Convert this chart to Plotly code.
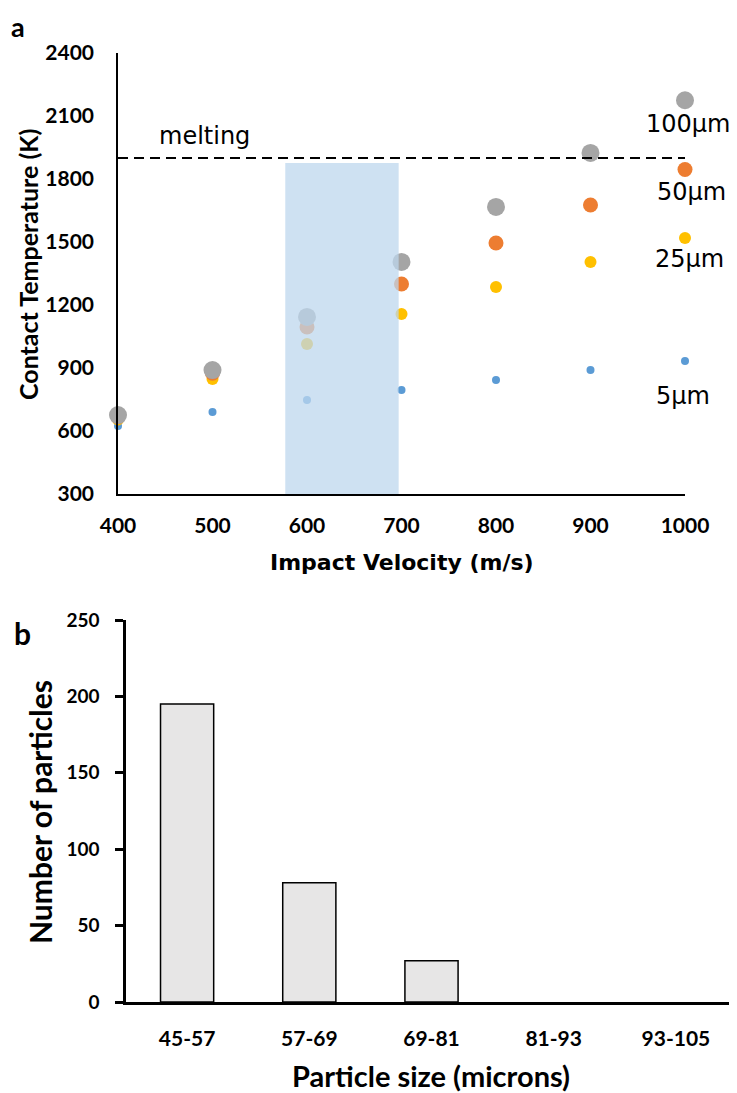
import plotly.graph_objects as go

# ---- Data: panel a ----
velocity = [400, 500, 600, 700, 800, 900, 1000]
temp_5um = [624, 690, 748, 795, 843, 890, 933]
temp_25um = [655, 848, 1014, 1157, 1286, 1405, 1519]
temp_50um = [668, 875, 1095, 1300, 1495, 1676, 1845]
temp_100um = [676, 890, 1143, 1405, 1667, 1924, 2175]
melting_temp = 1900
window_v = [577, 697]
window_t_top = 1876
y_ticks_a = [300, 600, 900, 1200, 1500, 1800, 2100, 2400]
x_ticks_a = [400, 500, 600, 700, 800, 900, 1000]

# ---- Data: panel b ----
size_bins = ["45-57", "57-69", "69-81", "81-93", "93-105"]
counts = [195, 78, 27, 0, 0]
y_ticks_b = [0, 50, 100, 150, 200, 250]

# page has an 8px body margin; lay out in page pixels
OFF = 8
W, H = 737 - OFF, 1093 - OFF
FONT = "Lato, Open Sans, sans-serif"
FONT_WIDE = "DejaVu Sans, sans-serif"

def fx(px):
    return (px - OFF) / W

def fy(py):
    return 1 - (py - OFF) / H

fig = go.Figure()

series = [
    ("5µm", temp_5um, "#5B9BD5", 8),
    ("25µm", temp_25um, "#FFC000", 12),
    ("50µm", temp_50um, "#ED7D31", 15),
    ("100µm", temp_100um, "#A5A5A5", 18),
]
for name, vals, col, sz in series:
    fig.add_trace(go.Scatter(
        x=velocity, y=vals, mode="markers", name=name,
        marker=dict(color=col, size=sz, line=dict(width=0)),
        cliponaxis=False, xaxis="x", yaxis="y", showlegend=False))

fig.add_trace(go.Bar(
    x=size_bins, y=counts, xaxis="x2", yaxis="y2", showlegend=False,
    marker=dict(color="#E7E6E6",
                line=dict(color="black", width=[1.5 if c > 0 else 0 for c in counts])),
    width=0.435))

# blue window (drawn above the points, semi-transparent)
fig.add_shape(type="rect", xref="x", yref="y",
              x0=window_v[0], x1=window_v[1], y0=300, y1=window_t_top,
              fillcolor="#BDD7EE", opacity=0.75, line=dict(width=0), layer="above")
# melting line
fig.add_shape(type="line", xref="x", yref="y",
              x0=velocity[0], x1=velocity[-1], y0=melting_temp, y1=melting_temp,
              line=dict(color="black", width=2, dash="10px,6px"))

ann = []
def label(text, x, y, size, bold=False, xref="paper", yref="paper", angle=0,
          family=FONT, yanchor="middle"):
    ann.append(dict(text=f"<b>{text}</b>" if bold else text, x=x, y=y, xref=xref, yref=yref,
                    showarrow=False, textangle=angle, xanchor="center", yanchor=yanchor,
                    font=dict(family=family, size=size, color="black")))

label("melting", fx(205), fy(136), 24, family=FONT_WIDE)
label("100µm", fx(688), fy(124), 24, family=FONT_WIDE)
label("50µm", fx(691), fy(192), 24, family=FONT_WIDE)
label("25µm", fx(689), fy(259), 24, family=FONT_WIDE)
label("5µm", fx(683), fy(396), 24, family=FONT_WIDE)

label("a", fx(18), 1.0, 27, bold=True, yanchor="top")
label("b", fx(22), fy(633), 30, bold=True)
label("Contact Temperature (K)", fx(28), fy(265), 25, bold=True, angle=-90)
label("Impact Velocity (m/s)", fx(402), fy(562), 22, bold=True, family=FONT_WIDE)
label("Number of particles", fx(40), fy(812), 30, bold=True, angle=-90)
label("Particle size (microns)", fx(431), fy(1075), 29, bold=True)

tickfont_a = dict(family=FONT, size=21, color="black")
tickfont_bx = dict(family=FONT, size=21, color="black")
tickfont_by = dict(family=FONT, size=19, color="black")

fig.update_layout(
    width=W, height=H, margin=dict(l=0, r=0, t=0, b=0),
    paper_bgcolor="white", plot_bgcolor="white",
    annotations=ann,
    xaxis=dict(domain=[fx(118), fx(685)], range=[400, 1000], tickvals=x_ticks_a,
               ticktext=[f"<b>{v}</b>" for v in x_ticks_a], automargin=False,
               showgrid=False, zeroline=False, showline=True, linecolor="black", linewidth=1.5,
               ticks="", tickfont=tickfont_a, ticklabelstandoff=12),
    yaxis=dict(domain=[fy(494), fy(53)], range=[300, 2400], tickvals=y_ticks_a,
               ticktext=[f"<b>{v}</b>" for v in y_ticks_a], automargin=False,
               showgrid=False, zeroline=False, showline=True, linecolor="black", linewidth=1.5,
               ticks="", tickfont=tickfont_a, ticklabelstandoff=18),
    xaxis2=dict(domain=[fx(126), 1], range=[-0.5, 4.5], type="category", automargin=False,
                tickvals=size_bins, ticktext=[f"<b>{v}</b>" for v in size_bins],
                showgrid=False, zeroline=False, showline=True, linecolor="black", linewidth=3,
                ticks="", tickfont=tickfont_bx, ticklabelstandoff=16, anchor="y2"),
    yaxis2=dict(domain=[fy(1002), fy(620)], range=[0, 250], tickvals=y_ticks_b, automargin=False,
                ticktext=[f"<b>{v}</b>" for v in y_ticks_b],
                showgrid=False, zeroline=False, showline=True, linecolor="black", linewidth=2.5,
                ticks="outside", ticklen=8, tickwidth=2.5, tickcolor="black",
                tickfont=tickfont_by, ticklabelstandoff=12, anchor="x2"),
)

fig.write_html("out.html")
